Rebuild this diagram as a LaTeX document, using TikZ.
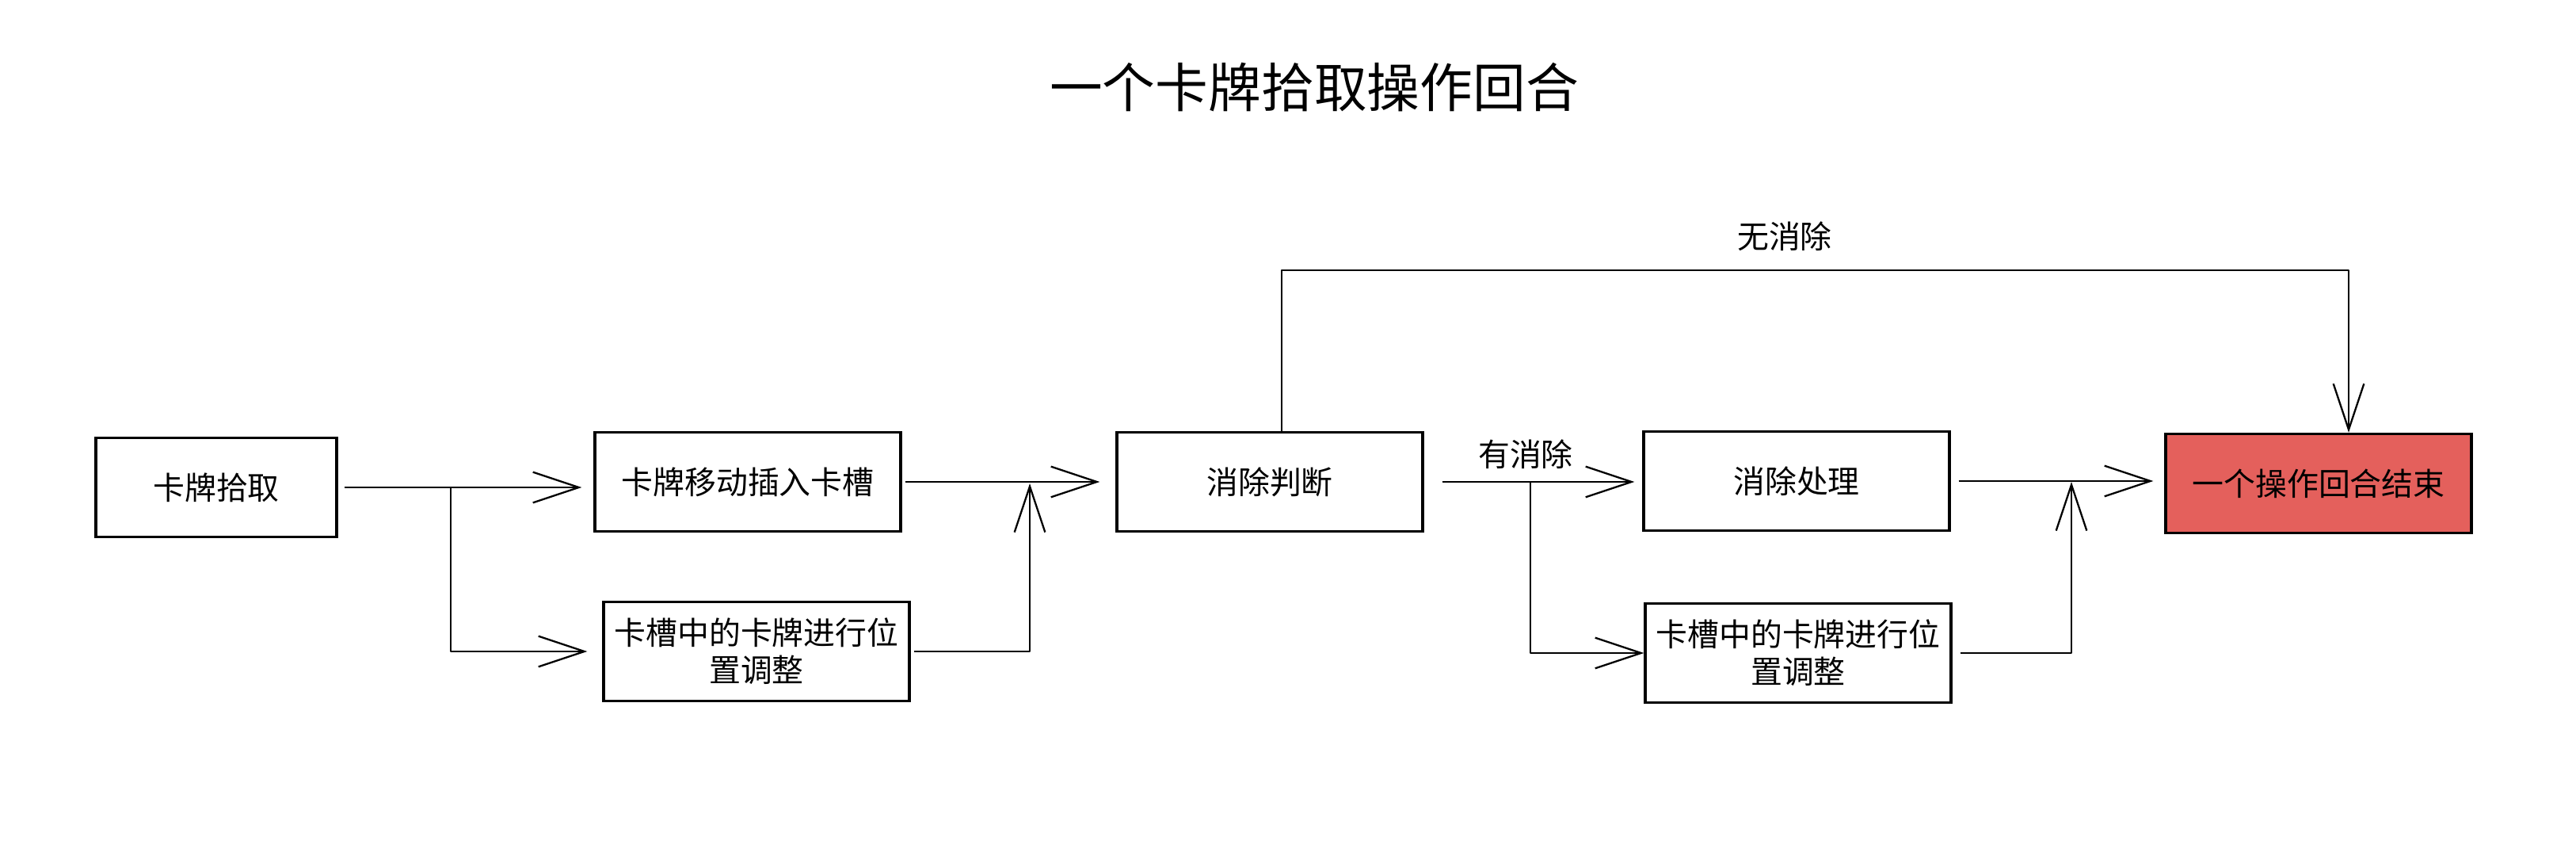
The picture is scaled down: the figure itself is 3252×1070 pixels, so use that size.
\documentclass[tikz,border=0pt]{standalone}
\usepackage{fontspec}
\setmainfont{Noto Sans CJK SC}
\usetikzlibrary{arrows.meta}
\definecolor{endred}{RGB}{228,96,92}
\begin{document}
\begin{tikzpicture}[x=0.02cm,y=-0.02cm,
  box/.style={draw=black, line width=2pt, minimum width=7.72cm, minimum height=2.5cm,
    inner sep=0pt, align=center, font=\fontsize{22.7}{26.6}\selectfont},
  conn/.style={line width=1.3pt, line join=round,
    -{Straight Barb[length=33pt,width=22pt,line width=1.3pt]}},
  lbl/.style={font=\fontsize{22.7}{26.6}\selectfont, inner sep=0pt}]
\useasboundingbox (0,0) rectangle (3252,1070);
\fill[white] (0,0) rectangle (3252,1070);

\node[font=\fontsize{38}{44}\selectfont, inner sep=0pt] (title) at (1659,110) {一个卡牌拾取操作回合};

\node[box, minimum width=6.08cm] (A) at (273,615) {卡牌拾取};
\node[box] (B) at (944,608) {卡牌移动插入卡槽};
\node[box] (C) at (955,822) {卡槽中的卡牌进行位\\置调整};
\node[box] (D) at (1603,608) {消除判断};
\node[box] (E) at (2268,607) {消除处理};
\node[box] (F) at (2270,824) {卡槽中的卡牌进行位\\置调整};
\node[box, fill=endred] (G) at (2927,610) {一个操作回合结束};

\coordinate (br1) at (569,615);
\coordinate (m1) at (1300,610);
\coordinate (t1) at (1618,341);
\coordinate (t2) at (2965,341);
\coordinate (br2) at (1932,608);
\coordinate (m2) at (2615,608);

\draw[conn, shorten <=0.16cm, shorten >=0.3cm] (A.east) -- (A.east -| B.west);
\draw[conn, shorten >=0.38cm] (br1) |- (C.west);
\draw[conn, shorten <=0.08cm, shorten >=0.4cm] (B.east) -- (B.east -| D.west);
\draw[conn, shorten <=0.08cm] (C.east) -| (m1);
\draw[conn] (D.north -| t1) -- (t1) -- (t2) -- (t2 |- G.north);
\node[lbl] (l1) at (2253,298) {无消除};
\draw[conn, shorten <=0.46cm, shorten >=0.2cm] (D.east) -- (D.east -| E.west);
\node[lbl] (l2) at (1926,573) {有消除};
\draw[conn] (br2) |- (F.west);
\draw[conn, shorten <=0.2cm, shorten >=0.28cm] (E.east) -- (E.east -| G.west);
\draw[conn, shorten <=0.2cm] (F.east) -| (m2);
\end{tikzpicture}
\end{document}
